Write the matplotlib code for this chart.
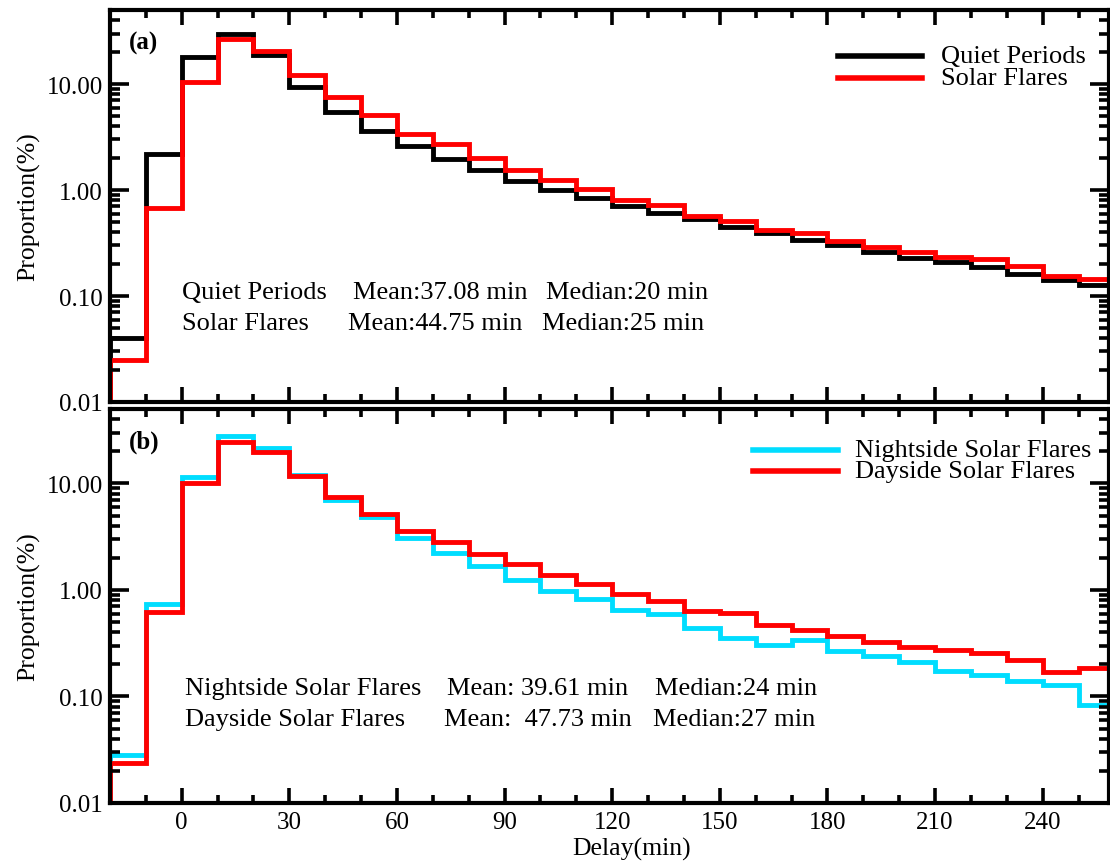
import numpy as np
import matplotlib
matplotlib.use("Agg")
import matplotlib.pyplot as plt
from matplotlib.ticker import FixedLocator, LogLocator, NullFormatter, FuncFormatter

# ---------------- data ----------------
bin_edges = list(range(-20, 270, 10))  # -20 ... 260

quiet = [0.040, 2.2, 18.0, 29.5, 19.0, 9.4, 5.5, 3.6, 2.6, 1.96, 1.53,
         1.23, 1.0, 0.85, 0.71, 0.61, 0.53, 0.45, 0.39, 0.34, 0.30,
         0.26, 0.23, 0.21, 0.186, 0.161, 0.142, 0.127]
flares = [0.025, 0.67, 10.4, 26.5, 20.7, 12.2, 7.5, 5.1, 3.4, 2.7, 2.0,
          1.56, 1.25, 1.03, 0.81, 0.72, 0.565, 0.51, 0.42, 0.39, 0.334,
          0.293, 0.26, 0.232, 0.222, 0.192, 0.154, 0.145]

night = [0.028, 0.74, 11.6, 27.7, 21.4, 12.0, 7.0, 4.8, 3.06, 2.22, 1.67,
         1.24, 0.98, 0.83, 0.65, 0.59, 0.44, 0.357, 0.305, 0.337, 0.267,
         0.240, 0.209, 0.173, 0.158, 0.139, 0.129, 0.084]
day = [0.0237, 0.62, 10.1, 24.7, 19.8, 11.8, 7.4, 5.2, 3.54, 2.85, 2.18,
       1.75, 1.38, 1.14, 0.92, 0.79, 0.64, 0.61, 0.47, 0.42, 0.368,
       0.327, 0.29, 0.273, 0.258, 0.221, 0.171, 0.185]

x_major = [0, 30, 60, 90, 120, 150, 180, 210, 240]
y_major = [0.01, 0.1, 1, 10]

legend_a = ["Quiet Periods", "Solar Flares"]
legend_b = ["Nightside Solar Flares", "Dayside Solar Flares"]
stats_a = [["Quiet Periods", "Mean:37.08 min", "Median:20 min"],
           ["Solar Flares", "Mean:44.75 min", "Median:25 min"]]
stats_b = [["Nightside Solar Flares", "Mean: 39.61 min", "Median:24 min"],
           ["Dayside Solar Flares", "Mean:  47.73 min", "Median:27 min"]]

# ---------------- style ----------------
plt.rcParams['font.family'] = ['Liberation Serif', 'DejaVu Serif']

W, H = 1110, 862
fig = plt.figure(figsize=(W / 100, H / 100), dpi=100)

def axrect(l, t, r, b):
    return [l / W, 1 - b / H, (r - l) / W, (b - t) / H]

ax_a = fig.add_axes(axrect(110, 11, 1109, 403))
ax_b = fig.add_axes(axrect(110, 410, 1109, 804))

CYAN = '#00DDFF'
RED = '#FF0000'
LW = 3.5
TXT = 19

def style(ax):
    ax.set_yscale('log')
    ax.set_xlim(-20, 258.5)
    ax.set_ylim(0.01, 50)
    for s in ax.spines.values():
        s.set_linewidth(3.0)
    ax.xaxis.set_major_locator(FixedLocator(x_major))
    ax.xaxis.set_minor_locator(FixedLocator(list(range(-20, 261, 10))))
    ax.yaxis.set_major_locator(FixedLocator(y_major))
    ax.yaxis.set_minor_locator(LogLocator(base=10, subs=np.arange(2, 10)))
    ax.yaxis.set_minor_formatter(NullFormatter())
    ax.yaxis.set_major_formatter(FuncFormatter(lambda v, p: f"{v:.2f}"))
    ax.tick_params(axis='x', which='major', direction='in', length=11, width=2.6,
                   top=True, bottom=True, labelsize=18, pad=6)
    ax.tick_params(axis='x', which='minor', direction='in', length=6, width=2.6,
                   top=True, bottom=True)
    ax.tick_params(axis='y', which='major', direction='in', length=14, width=2.6,
                   left=True, right=True, labelsize=18, pad=5)
    ax.tick_params(axis='y', which='minor', direction='in', length=7, width=2.6,
                   left=True, right=True)
    ax.set_ylabel('Proportion(%)', fontsize=18.5, labelpad=5)

# ---------------- panel a ----------------
style(ax_a)
ax_a.stairs(quiet, bin_edges, baseline=1e-4, color='black', lw=LW, label=legend_a[0])
ax_a.stairs(flares, bin_edges, baseline=1e-4, color=RED, lw=LW, label=legend_a[1])
ax_a.tick_params(axis='x', labelbottom=False)
ax_a.text(129 / W, 1 - 43 / H, '(a)', transform=fig.transFigure, fontsize=18,
          fontweight='bold', va='center', ha='left')

# ---------------- panel b ----------------
style(ax_b)
ax_b.stairs(night, bin_edges, baseline=1e-4, color=CYAN, lw=LW, label=legend_b[0])
ax_b.stairs(day, bin_edges, baseline=1e-4, color=RED, lw=LW, label=legend_b[1])
ax_b.set_xlabel('Delay(min)', fontsize=18.5)
ax_b.xaxis.set_label_coords((632 - 110) / (1109 - 110), -0.085)
ax_b.text(129 / W, 1 - 442 / H, '(b)', transform=fig.transFigure, fontsize=18,
          fontweight='bold', va='center', ha='left')

# ---------------- legends (drawn manually) ----------------
def legend(lines, colors, x0, x1, xt, ys):
    for (lab, c, y) in zip(lines, colors, ys):
        fig.add_artist(plt.Line2D([x0 / W, x1 / W], [1 - y / H, 1 - y / H],
                                  color=c, lw=LW + 0.5, transform=fig.transFigure))
        fig.text(xt / W, 1 - y / H, lab, fontsize=TXT, va='center', ha='left')

legend(legend_a, ['black', RED], 838, 922, 941, [57, 79])
legend(legend_b, [CYAN, RED], 753, 838, 855, [451, 472])

# ---------------- stats text ----------------
def stats(rows, xs_rows, ys):
    for row, xs, y in zip(rows, xs_rows, ys):
        for t, x in zip(row, xs):
            fig.text(x / W, 1 - y / H, t, fontsize=TXT, va='center', ha='left')

stats(stats_a, [[182, 353, 546], [182, 348, 542]], [293, 324])
stats(stats_b, [[185, 447, 655], [185, 444, 653]], [689, 720])

fig.savefig('out.png', dpi=100)
